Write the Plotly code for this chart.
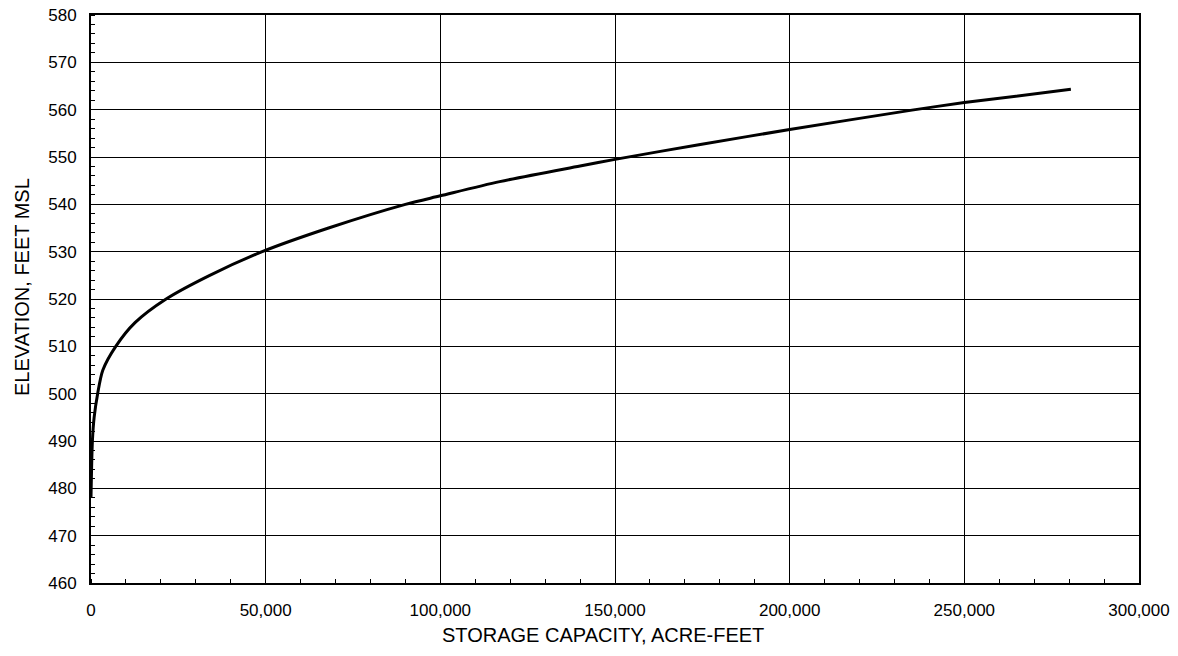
import plotly.graph_objects as go

storage = [0, 400, 900, 1900, 3400, 7100, 12600, 21500, 34000, 49000, 68000, 90000,
           100000, 117000, 140000, 150000, 174000, 200000, 235000, 250000, 280500]
elevation = [478, 490, 495, 500, 505, 510, 515, 520, 525, 530, 535, 540,
             541.8, 544.8, 548.1, 549.5, 552.6, 555.8, 559.9, 561.5, 564.3]

x_ticks = [0, 50000, 100000, 150000, 200000, 250000, 300000]
x_tick_text = ["0", "50,000", "100,000", "150,000", "200,000", "250,000", "300,000"]
y_ticks = list(range(460, 581, 10))

x_title = "STORAGE CAPACITY, ACRE-FEET"
y_title = "ELEVATION, FEET MSL"

fig = go.Figure()
fig.add_trace(go.Scatter(x=storage, y=elevation, mode="lines",
                         line=dict(color="black", width=3, shape="spline", smoothing=0.8),
                         showlegend=False, hoverinfo="x+y"))

font = dict(family="Liberation Sans, Arial, sans-serif", size=17, color="black")
fig.update_layout(
    width=1178, height=656,
    margin=dict(l=91, r=39, t=15, b=73, autoexpand=False),
    paper_bgcolor="white", plot_bgcolor="white",
    font=font,
    annotations=[
        dict(text=x_title, xref="paper", yref="paper", x=0.4885, y=0,
             xanchor="center", yanchor="middle", yshift=-52, showarrow=False,
             font=dict(size=20)),
        dict(text=y_title, xref="paper", yref="paper", x=0, y=0.5211,
             xanchor="center", yanchor="middle", xshift=-69, textangle=-90,
             showarrow=False, font=dict(size=20)),
    ],
)
fig.update_xaxes(
    range=[0, 300000], tickvals=x_ticks, ticktext=x_tick_text,
    showgrid=True, gridcolor="black", gridwidth=1,
    showline=True, linecolor="black", linewidth=2, mirror=True,
    ticks="", zeroline=False, ticklabelstandoff=11, automargin=False,
    minor=dict(dtick=10000, ticks="inside", ticklen=4, tickcolor="black", showgrid=False),
)
fig.update_yaxes(
    range=[460, 580], tickvals=y_ticks,
    showgrid=True, gridcolor="black", gridwidth=1,
    showline=True, linecolor="black", linewidth=2, mirror=True,
    ticks="", zeroline=False, ticklabelstandoff=9, automargin=False,
    minor=dict(dtick=2, ticks="inside", ticklen=4, tickcolor="black", showgrid=False),
)
fig.write_html("out.html")
